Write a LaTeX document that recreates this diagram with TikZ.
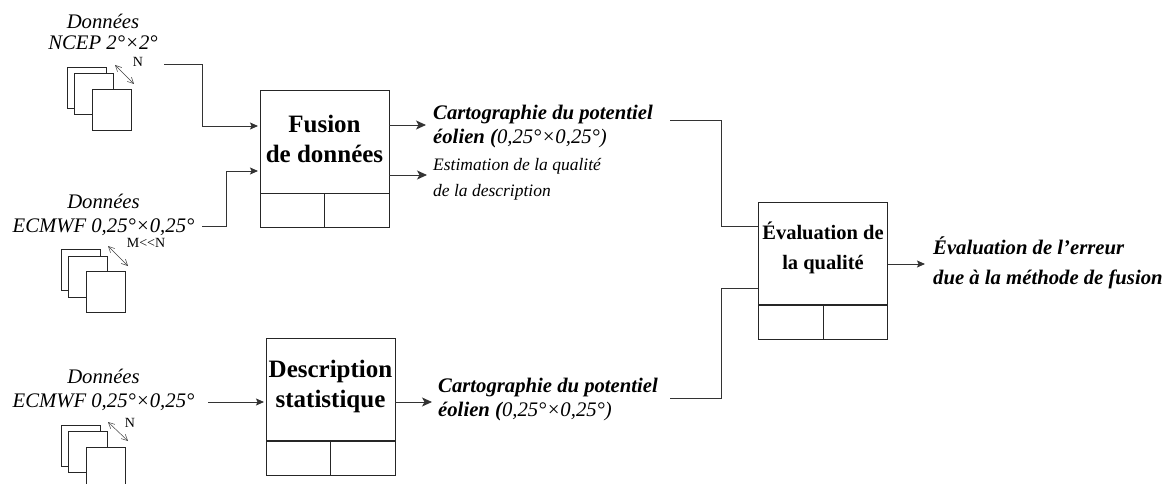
\documentclass[tikz,border=0pt]{standalone}
\usepackage{fontspec}
\setmainfont{Liberation Serif}[Ligatures=NoCommon]
\usetikzlibrary{arrows.meta,positioning}
\tikzset{
  link/.style={line width=0.9pt,black!80},
  flow/.style={link,-{Stealth[length=8pt,width=7pt,inset=1.5pt]}},
  bigflow/.style={link,-{Stealth[length=10pt,width=9pt,inset=2.5pt]}},
  cell/.style={draw=black!85,line width=1pt,inner sep=0pt,minimum width=64.5pt,minimum height=34pt},
  procbox/.style={draw=black!85,line width=1pt,inner sep=0pt,minimum width=129pt,minimum height=102pt},
  sheet/.style={draw=black!85,fill=white,line width=0.8pt,inner sep=0pt,minimum width=39pt,minimum height=41pt},
  swap/.style={black!75,line width=0.5pt,{Straight Barb[length=6pt,width=6pt]}-{Straight Barb[length=6pt,width=6pt]}},
  data/.style={inner sep=0pt,align=center,font=\fontsize{20.7}{24}\selectfont\itshape},
  result/.style={inner sep=0pt,anchor=west,align=left,font=\fontsize{20.7}{24}\selectfont\itshape},
  note/.style={inner sep=0pt,anchor=west,align=left,font=\fontsize{17.5}{26}\selectfont\itshape},
  size/.style={inner sep=0pt,font=\fontsize{14}{16}\selectfont},
  title/.style={inner sep=0pt,align=center,font=\fontsize{25}{30}\selectfont\bfseries}
}
\begin{document}
\begin{tikzpicture}[x=1pt,y=-1pt]
  \useasboundingbox (0,0) rectangle (1170,484);
  \clip (0,0) rectangle (1170,484);
  % input data
  \node [data,font=\fontsize{20.7}{21}\selectfont\itshape] (ncep) at (103,32) {Données\\NCEP 2°×2°};
  \node [data] (ecmwfa) at (103.5,215) {Données\hspace{14pt}\\ECMWF 0,25°×0,25°};
  \node [data] (ecmwfb) at (103.5,390) {Données\hspace{14pt}\\ECMWF 0,25°×0,25°};
  % stacks of maps
  \node [sheet] (s1a) at (86.5,88) {};
  \node [sheet] (s1b) at (94,94) {};
  \node [sheet] (s1c) at (112,109.5) {};
  \node [sheet] (s2a) at (80.5,270) {};
  \node [sheet] (s2b) at (87.5,276.5) {};
  \node [sheet] (s2c) at (105.5,291.5) {};
  \node [sheet] (s3a) at (80.5,445.5) {};
  \node [sheet] (s3b) at (87.5,452) {};
  \node [sheet] (s3c) at (105.5,467.5) {};
  \coordinate (n1a) at (115,65);
  \coordinate (n1b) at (134,84);
  \coordinate (n2a) at (108,246);
  \coordinate (n2b) at (128,266);
  \coordinate (n3a) at (108,422);
  \coordinate (n3b) at (128,441);
  \draw [swap] (n1a) -- (n1b);
  \draw [swap] (n2a) -- (n2b);
  \draw [swap] (n3a) -- (n3b);
  \node [size] (nlab) at (138,62) {N};
  \node [size] (mlab) at (146,243) {M{<}{<}N};
  \node [size] (nlabb) at (130,423) {N};
  % boxes
  \node [procbox] (fusion) at (324.5,142) {};
  \node [cell] (fusionl) at (292.25,210) {};
  \node [cell] (fusionr) at (356.75,210) {};
  \node [title] (fusiont) at (324.5,139) {Fusion\\de données};
  \node [procbox] (descr) at (330.5,389.5) {};
  \node [cell] (descrl) at (298.25,458) {};
  \node [cell] (descrr) at (362.75,458) {};
  \node [title] (descrt) at (330.5,386.5) {Description\\statistique};
  \node [procbox] (evalq) at (823,253.5) {};
  \node [cell] (evalql) at (790.75,322) {};
  \node [cell] (evalqr) at (855.25,322) {};
  \node [title,font=\fontsize{20.5}{30}\selectfont\bfseries] (evalqt) at (823,248) {Évaluation de\\la qualité};
  % results
  \node [result] (carta) at (433,127) {\textbf{Cartographie du potentiel}\\\textbf{éolien (}0,25°×0,25°)};
  \node [note] (estim) at (433,179) {Estimation de la qualité\\de la description};
  \node [result] (cartb) at (438,400) {\textbf{Cartographie du potentiel}\\\textbf{éolien (}0,25°×0,25°)};
  \node [result,font=\fontsize{20.7}{30}\selectfont\itshape\bfseries] (errq) at (933,263) {Évaluation de l'erreur\\due à la méthode de fusion};
  % connectors
  \coordinate (ncepo) at (164,64);
  \coordinate (fusioni) at (258,126);
  \coordinate (ecmwfo) at (202,226);
  \coordinate (fusionj) at (258,171);
  \coordinate (ecmwfp) at (208,402);
  \coordinate (descri) at (264,402);
  \coordinate (fusiono) at (389,125);
  \coordinate (cartai) at (426,125);
  \coordinate (fusionp) at (389,175);
  \coordinate (estimi) at (427,175);
  \coordinate (descro) at (395,402);
  \coordinate (cartbi) at (432,402);
  \coordinate (cartao) at (670,120);
  \coordinate (evalqi) at (758,226);
  \coordinate (cartbo) at (670,398);
  \coordinate (evalqj) at (758,288);
  \coordinate (evalqo) at (888,264);
  \coordinate (errqi) at (925,264);
  \draw [flow] (ncepo) -- (202,64) -- (202,126) -- (fusioni);
  \draw [flow] (ecmwfo) -- (226,226) -- (226,171) -- (fusionj);
  \draw [flow] (ecmwfp) -- (descri);
  \draw [bigflow] (fusiono) -- (cartai);
  \draw [bigflow] (fusionp) -- (estimi);
  \draw [bigflow] (descro) -- (cartbi);
  \draw [link] (cartao) -- (721,120) -- (721,226) -- (evalqi);
  \draw [link] (cartbo) -- (721,398) -- (721,288) -- (evalqj);
  \draw [flow] (evalqo) -- (errqi);
\end{tikzpicture}
\end{document}
